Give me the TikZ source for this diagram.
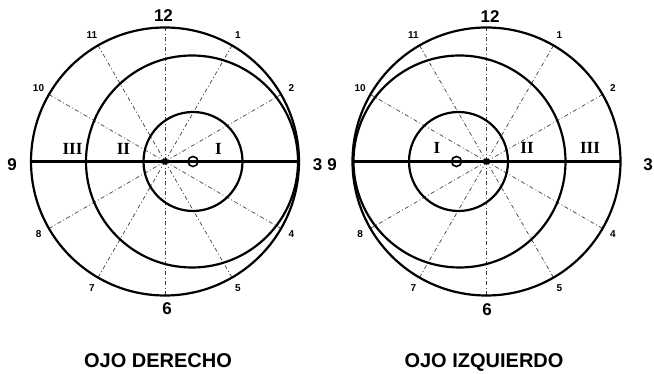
\documentclass[tikz,border=0pt]{standalone}
\usepackage{fontspec}
\setmainfont{Liberation Sans}
\newfontfamily\romfont{Liberation Serif}
\usepackage{tikz}
\usetikzlibrary{positioning}

\tikzset{
  ring/.style={line width=2.2pt},
  eje/.style={line width=2.4pt},
  radio/.style={line width=0.7pt, black!75, dash pattern=on 4pt off 2.5pt on 1pt off 2.5pt},
  hora/.style={font=\bfseries\fontsize{10}{10}\selectfont, inner sep=0pt},
  cuarto/.style={font=\bfseries\fontsize{17}{17}\selectfont, inner sep=0pt},
  zona/.style={font=\romfont\bfseries\fontsize{17}{17}\selectfont, inner sep=0pt},
  titulo/.style={font=\bfseries\fontsize{20}{20}\selectfont, inner sep=0pt, anchor=base},
}

\begin{document}
\begin{tikzpicture}[x=1pt,y=1pt]
\useasboundingbox (0,0) rectangle (654,374);

% Geometry parameters
\def\R{134}    % outer radius
\def\Rm{106}   % middle radius
\def\Ri{49.5}  % inner radius
\def\dm{27}    % middle ring offset
\def\di{28}    % inner ring offset

%% Right eye
\begin{scope}[shift={(165,212.5)}]
% Clock rays
\foreach \a in {30,60,...,330}
  \draw[radio] (0,0) -- (\a:\R);
% Rings
\draw[ring] (0,0) circle (\R);
\draw[ring] (\dm,0) circle (\Rm);
\draw[ring] (\di,0) circle (\Ri);
% Horizontal axis
\draw[eje] (180:\R) -- (0:\R);
% Centre and marker
\fill (0,0) circle (3.2);
\draw[line width=1.6pt] (\di,0) circle (5);
% Hours
\foreach \h/\a in {1/60,2/30,4/-30,5/-60,7/-120,8/-150,10/150,11/120}
  \node[hora] (d\h) at (\a:146) {\h};
\node[cuarto] (d12) at (-1.5,146) {12};
\node[cuarto] (d3) at (152.5,-3) {3};
\node[cuarto] (d6) at (2,-147.5) {6};
\node[cuarto] (d9) at (-153,-3) {9};
% Zones
\node[zona] (dIII) at (-92.5,12.5) {III};
\node[zona] (dII) at (-41.5,12.5) {II};
\node[zona] (dI) at (53.5,12.5) {I};
\end{scope}

%% Left eye
\begin{scope}[shift={(486.5,212.5)}]
% Clock rays
\foreach \a in {30,60,...,330}
  \draw[radio] (0,0) -- (\a:\R);
% Rings
\draw[ring] (0,0) circle (\R);
\draw[ring] (-\dm,0) circle (\Rm);
\draw[ring] (-\di,0) circle (\Ri);
% Horizontal axis
\draw[eje] (180:\R) -- (0:\R);
% Centre and marker
\fill (0,0) circle (3.2);
\draw[line width=1.6pt] (-\di-2,0) circle (5);
% Hours
\foreach \h/\a in {1/60,2/30,4/-30,5/-60,7/-120,8/-150,10/150,11/120}
  \node[hora] (i\h) at (\a:146) {\h};
\node[cuarto] (i12) at (3.5,144.5) {12};
\node[cuarto] (i3) at (161.5,-3.5) {3};
\node[cuarto] (i6) at (0.5,-148.5) {6};
\node[cuarto] (i9) at (-154.5,-3.5) {9};
% Zones
\node[zona] (iI) at (-49.5,13.5) {I};
\node[zona] (iII) at (40.5,13.5) {II};
\node[zona] (iIII) at (103.5,13.5) {III};
\end{scope}

% Captions
\node[titulo] (derecho) at (158,6) {OJO DERECHO};
\node[titulo] (izquierdo) at (484,6) {OJO IZQUIERDO};

\end{tikzpicture}
\end{document}
